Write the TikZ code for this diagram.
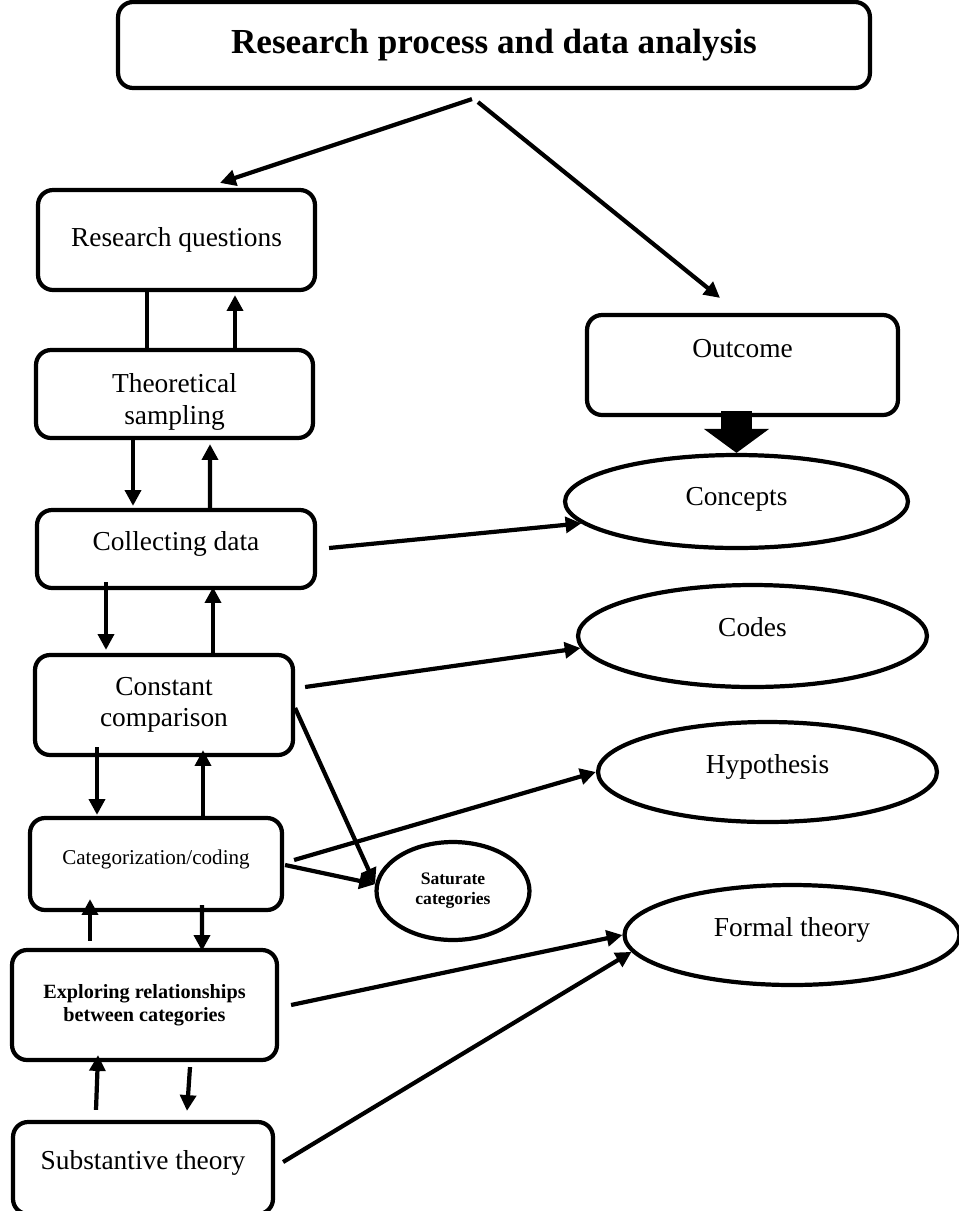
\documentclass[tikz,border=0pt]{standalone}
\usepackage{fontspec}
\setmainfont{Liberation Serif}
\usetikzlibrary{shapes.geometric,arrows.meta}
\tikzset{
  stagebox/.style={draw, line width=2.4pt, rounded corners=0.3cm, align=center, font=\fontsize{15.6}{18}\selectfont},
  resultell/.style={draw, ellipse, line width=2.4pt, inner sep=0pt, align=center, font=\fontsize{15.6}{18}\selectfont},
  flow/.style={line width=2.4pt, -{Triangle[length=9pt,width=9pt]}},
  link/.style={line width=2.4pt},
  bigarrow/.style={line width=0.62cm, -{Triangle[length=0.48cm,width=1.28cm]}},
}
\begin{document}
\begin{tikzpicture}[x=0.02cm, y=-0.02cm]
\useasboundingbox (0,0) rectangle (958,1211);
% Research process
\node[stagebox, minimum width=15.04cm, minimum height=1.72cm, font=\fontsize{20}{24}\selectfont\bfseries] (title) at (494,45) {Research process and data analysis};
\node[stagebox, minimum width=5.54cm, minimum height=2cm] (rq) at (176.5,240) {Research questions};
\node[stagebox, minimum width=5.54cm, minimum height=1.76cm, text height=38pt] (ts) at (174.5,394) {Theoretical\\sampling};
\node[stagebox, minimum width=5.56cm, minimum height=1.56cm, text height=11pt, text depth=9pt] (cd) at (176,549) {Collecting data};
\node[stagebox, minimum width=5.16cm, minimum height=2cm] (cc) at (164,705) {Constant\\comparison};
\node[stagebox, minimum width=5.04cm, minimum height=1.84cm, font=\fontsize{12}{14}\selectfont, text height=9pt, text depth=9pt] (cat) at (156,864) {Categorization/coding};
\node[stagebox, minimum width=5.3cm, minimum height=2.2cm, font=\fontsize{11.5}{13}\selectfont\bfseries] (exp) at (144.5,1005) {Exploring relationships\\between categories};
\node[stagebox, minimum width=5.2cm, minimum height=1.84cm, text height=11pt, text depth=9pt] (sub) at (143,1168) {Substantive theory};
% Outcome
\node[stagebox, minimum width=6.22cm, minimum height=2cm, text height=11pt, text depth=20pt] (outcome) at (742.5,365) {Outcome};
\node[resultell, minimum width=6.86cm, minimum height=1.86cm, text height=11pt, text depth=6pt] (concepts) at (736.5,501.5) {Concepts};
\node[resultell, minimum width=6.98cm, minimum height=2.04cm, text height=11pt, text depth=10pt] (codes) at (752.5,636) {Codes};
\node[resultell, minimum width=6.78cm, minimum height=2cm, text height=11pt, text depth=9pt] (hyp) at (767.5,772) {Hypothesis};
\node[resultell, minimum width=6.7cm, minimum height=2cm, text height=11pt, text depth=9pt] (formal) at (792,935) {Formal theory};
\node[resultell, minimum width=3.06cm, minimum height=1.96cm, font=\fontsize{10}{11.5}\selectfont\bfseries] (sat) at (453,891) {Saturate\\categories};

\draw[flow] ([shift={(-22,9)}]title.south) -- ([shift={(43.5,-5)}]rq.north);
\draw[flow] ([shift={(-16,12)}]title.south) -- ([shift={(-22.5,-15)}]outcome.north);
\draw[bigarrow, shorten <=-0.12cm] (concepts.north |- outcome.south) -- (concepts.north);

\draw[link] ([shift={(-29.5,0)}]rq.south) -- ([shift={(-27.5,0)}]ts.north);
\draw[flow] ([shift={(60.5,0)}]ts.north) -- ([shift={(58.5,3)}]rq.south);
\draw[flow] ([shift={(-41.5,0)}]ts.south) -- ([shift={(-43,-2)}]cd.north);
\draw[flow] ([shift={(34,0)}]cd.north) -- ([shift={(35.5,4)}]ts.south);
\draw[flow] ([shift={(-70,-8)}]cd.south) -- ([shift={(-58,-3)}]cc.north);
\draw[flow] ([shift={(49,0)}]cc.north) -- ([shift={(37,-3)}]cd.south);
\draw[flow] ([shift={(-67,-10)}]cc.south) -- ([shift={(-59,-1)}]cat.north);
\draw[flow] ([shift={(47,0)}]cat.north) -- ([shift={(39,-7)}]cc.south);
\draw[flow] ([shift={(-54.5,-7)}]exp.north) -- ([shift={(-66,-13)}]cat.south);
\draw[flow] ([shift={(46,-7)}]cat.south) -- ([shift={(57.5,3)}]exp.north);
\draw[flow] ([shift={(-47,-10)}]sub.north) -- ([shift={(-46.5,-7)}]exp.south);
\draw[flow] ([shift={(45.5,5)}]exp.south) -- ([shift={(44,-9)}]sub.north);

\draw[flow] ([shift={(12,-1)}]cd.east) -- (concepts.188);
\draw[flow] ([shift={(10,-18)}]cc.east) -- (codes.184);
\draw[flow] ([shift={(0,3)}]cc.east) -- (sat.175);
\draw[flow] ([shift={(10,-4)}]cat.east) -- (hyp.west);
\draw[flow] ([shift={(1,1)}]cat.east) -- (sat.175);
\draw[flow] ([shift={(12,0)}]exp.east) -- (formal.west);
\draw[flow] ([shift={(8,-6)}]sub.east) -- (formal.186);
\end{tikzpicture}
\end{document}
